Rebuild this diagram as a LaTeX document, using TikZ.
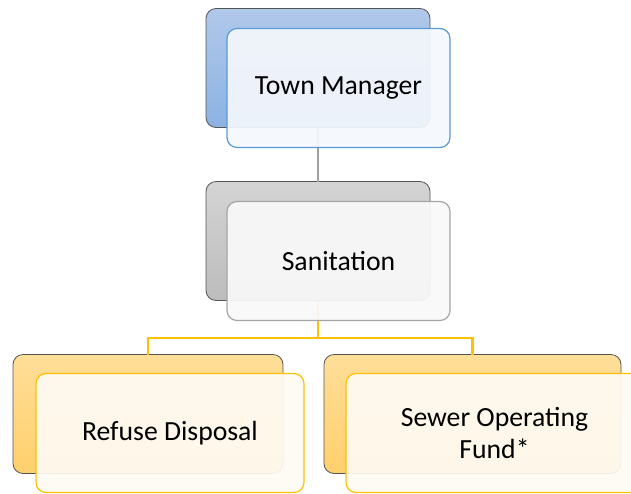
\documentclass[tikz,border=0pt]{standalone}
\usepackage{fontspec}
\setmainfont{Carlito}
\usepackage{tikz}
\usetikzlibrary{positioning}
\definecolor{mgrTop}{RGB}{176,200,234}
\definecolor{mgrBot}{RGB}{140,178,226}
\definecolor{mgrEdge}{RGB}{91,155,213}
\definecolor{mgrFill}{RGB}{244,247,252}
\definecolor{depTop}{RGB}{212,212,212}
\definecolor{depBot}{RGB}{188,188,188}
\definecolor{depEdge}{RGB}{165,165,165}
\definecolor{depFill}{RGB}{249,249,249}
\definecolor{subTop}{RGB}{255,222,152}
\definecolor{subBot}{RGB}{255,207,108}
\definecolor{subEdge}{RGB}{255,192,0}
\definecolor{subFill}{RGB}{254,250,243}
\definecolor{backEdge}{RGB}{85,85,85}
\definecolor{linkGray}{RGB}{160,160,160}

\begin{document}
\begin{tikzpicture}[
  x=1pt,y=-1pt,
  node distance=54pt,
  back/.style={draw=backEdge,line width=0.8pt,rounded corners=10pt,inner sep=0pt,outer sep=0pt,minimum height=119pt},
  front/.style={line width=1.2pt,rounded corners=10pt,inner sep=0pt,outer sep=0pt,minimum height=119pt,
    fill opacity=0.93,text opacity=1,align=center,font=\fontsize{27.7}{32}\selectfont,anchor=north west},
  mgrback/.style={back,top color=mgrTop,bottom color=mgrBot},
  depback/.style={back,top color=depTop,bottom color=depBot},
  subback/.style={back,top color=subTop,bottom color=subBot},
  link/.style={line width=2.4pt}
]
\useasboundingbox (0,0) rectangle (631,493);
% back plates
\node[mgrback,minimum width=224pt] (tmBack) at (318,68) {};
\node[depback,minimum width=224pt,below=of tmBack] (sanBack) {};
\node[subback,minimum width=270pt] (refBack) at (148,414) {};
\node[subback,minimum width=297pt] (sewBack) at (472.5,414) {};
% connectors
\coordinate (split) at (318,338);
\draw[link,draw=linkGray] (tmBack.south) -- (sanBack.north);
\draw[link,draw=subEdge] (sanBack.south) -- (split) -| (refBack.north);
\draw[link,draw=subEdge] (split) -| (sewBack.north);
% front cards
\node[front,draw=mgrEdge,fill=mgrFill,minimum width=223pt] (tm) at ([shift={(21,20)}]tmBack.north west) {Town Manager};
\node[front,draw=depEdge,fill=depFill,minimum width=223pt] (san) at ([shift={(21,20)}]sanBack.north west) {Sanitation};
\node[front,draw=subEdge,fill=subFill,minimum width=268pt] (ref) at ([shift={(23,19)}]refBack.north west) {Refuse Disposal};
\node[front,draw=subEdge,fill=subFill,minimum width=297pt] (sew) at ([shift={(22,19)}]sewBack.north west) {Sewer Operating\\Fund*};
\end{tikzpicture}
\end{document}
